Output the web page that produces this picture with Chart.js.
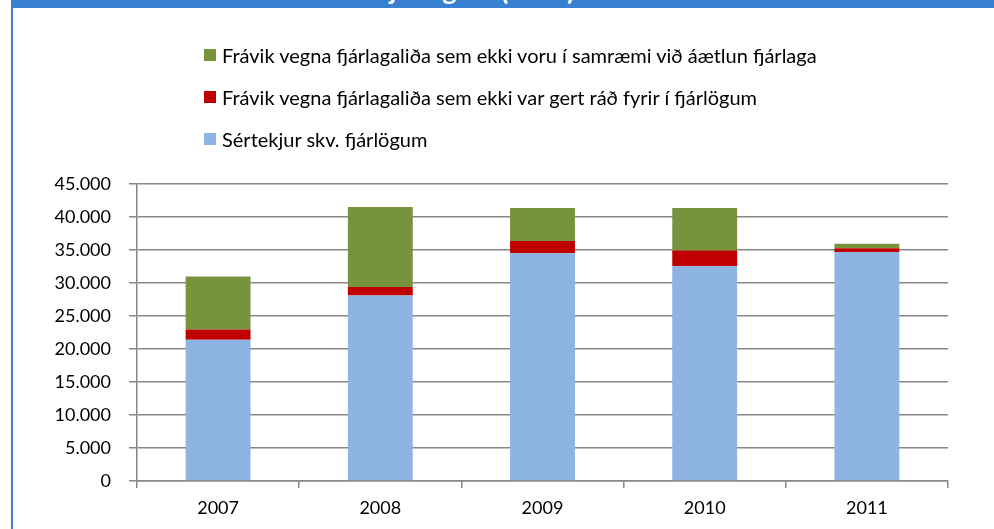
<!DOCTYPE html>
<html>
<head>
<meta charset="utf-8">
<script src="https://cdn.jsdelivr.net/npm/chart.js@4.4.0/dist/chart.umd.min.js"></script>
<style>
body{margin:0;background:#fff;}
#wrap{position:relative;width:994px;height:529px;overflow:hidden;background:#fff;}
#topbar{position:absolute;left:12px;top:0;width:982px;height:8px;background:#3880d0;overflow:hidden;}
#title{position:absolute;left:138px;top:-27px;color:#fff;font:bold 27px Lato,sans-serif;white-space:nowrap;}
#leftline{position:absolute;left:11px;top:0;width:2px;height:529px;background:#3a80d0;}
#legend{position:absolute;left:204px;top:43px;font:20px Lato,sans-serif;color:#000;}
.li{display:flex;align-items:center;height:24px;margin-bottom:18px;white-space:nowrap;}
.sw{width:12px;height:12px;margin-right:6px;}
canvas{position:absolute;left:0;top:0;}
</style>
</head>
<body>
<div id="wrap">
<canvas id="c" width="994" height="529"></canvas>
<div id="topbar"><div id="title">Frávik sértekna frá fjárlögum (m.kr.)</div></div>
<div id="leftline"></div>
<div id="legend"></div>
</div>
<script>
/* DATA */
let years=["2007","2008","2009","2010","2011"];
let sertekjur=[21400,28100,34500,32550,34700];
let ekkiGertRad=[1550,1300,1850,2360,560];
let ekkiSamraemi=[8050,12100,5000,6470,690];
let names=[
"Sértekjur skv. fjárlögum",
"Frávik vegna fjárlagaliða sem ekki var gert ráð fyrir í fjárlögum",
"Frávik vegna fjárlagaliða sem ekki voru í samræmi við áætlun fjárlaga"
];
let colors=["#8db4e2","#c00000","#77933c"];

/* LEGEND (reverse order, like the picture) */
let lg=document.getElementById("legend");
[2,1,0].forEach(i=>{
lg.innerHTML+='<div class="li"><div class="sw" style="background:'+colors[i]+'"></div>'+names[i]+'</div>';
});

let fnt={family:"Lato, sans-serif",size:18};
let grey="#878787";

new Chart(document.getElementById("c"),{
type:"bar",
data:{
labels:years,
datasets:[
{label:names[0],data:sertekjur,backgroundColor:colors[0]},
{label:names[1],data:ekkiGertRad,backgroundColor:colors[1]},
{label:names[2],data:ekkiSamraemi,backgroundColor:colors[2]}
]
},
options:{
responsive:false,
animation:false,
layout:{padding:{top:184,right:46,left:0,bottom:0}},
plugins:{legend:{display:false},tooltip:{enabled:false}},
datasets:{bar:{barPercentage:0.4,categoryPercentage:1}},
scales:{
x:{
stacked:true,
afterFit:s=>{s.height=48;},
grid:{offset:true,drawOnChartArea:false,drawTicks:true,tickLength:7,color:grey,lineWidth:1.5},
border:{color:grey,width:1.5},
ticks:{font:fnt,color:"#000",padding:9}
},
y:{
stacked:true,
min:0,max:45000,
afterFit:s=>{s.width=137;},
grid:{color:grey,tickLength:8,lineWidth:1.5},
border:{color:grey,width:1.5},
ticks:{stepSize:5000,font:fnt,color:"#000",padding:18,
callback:v=>v.toLocaleString("de-DE")}
}
}
}
});
</script>
</body>
</html>
